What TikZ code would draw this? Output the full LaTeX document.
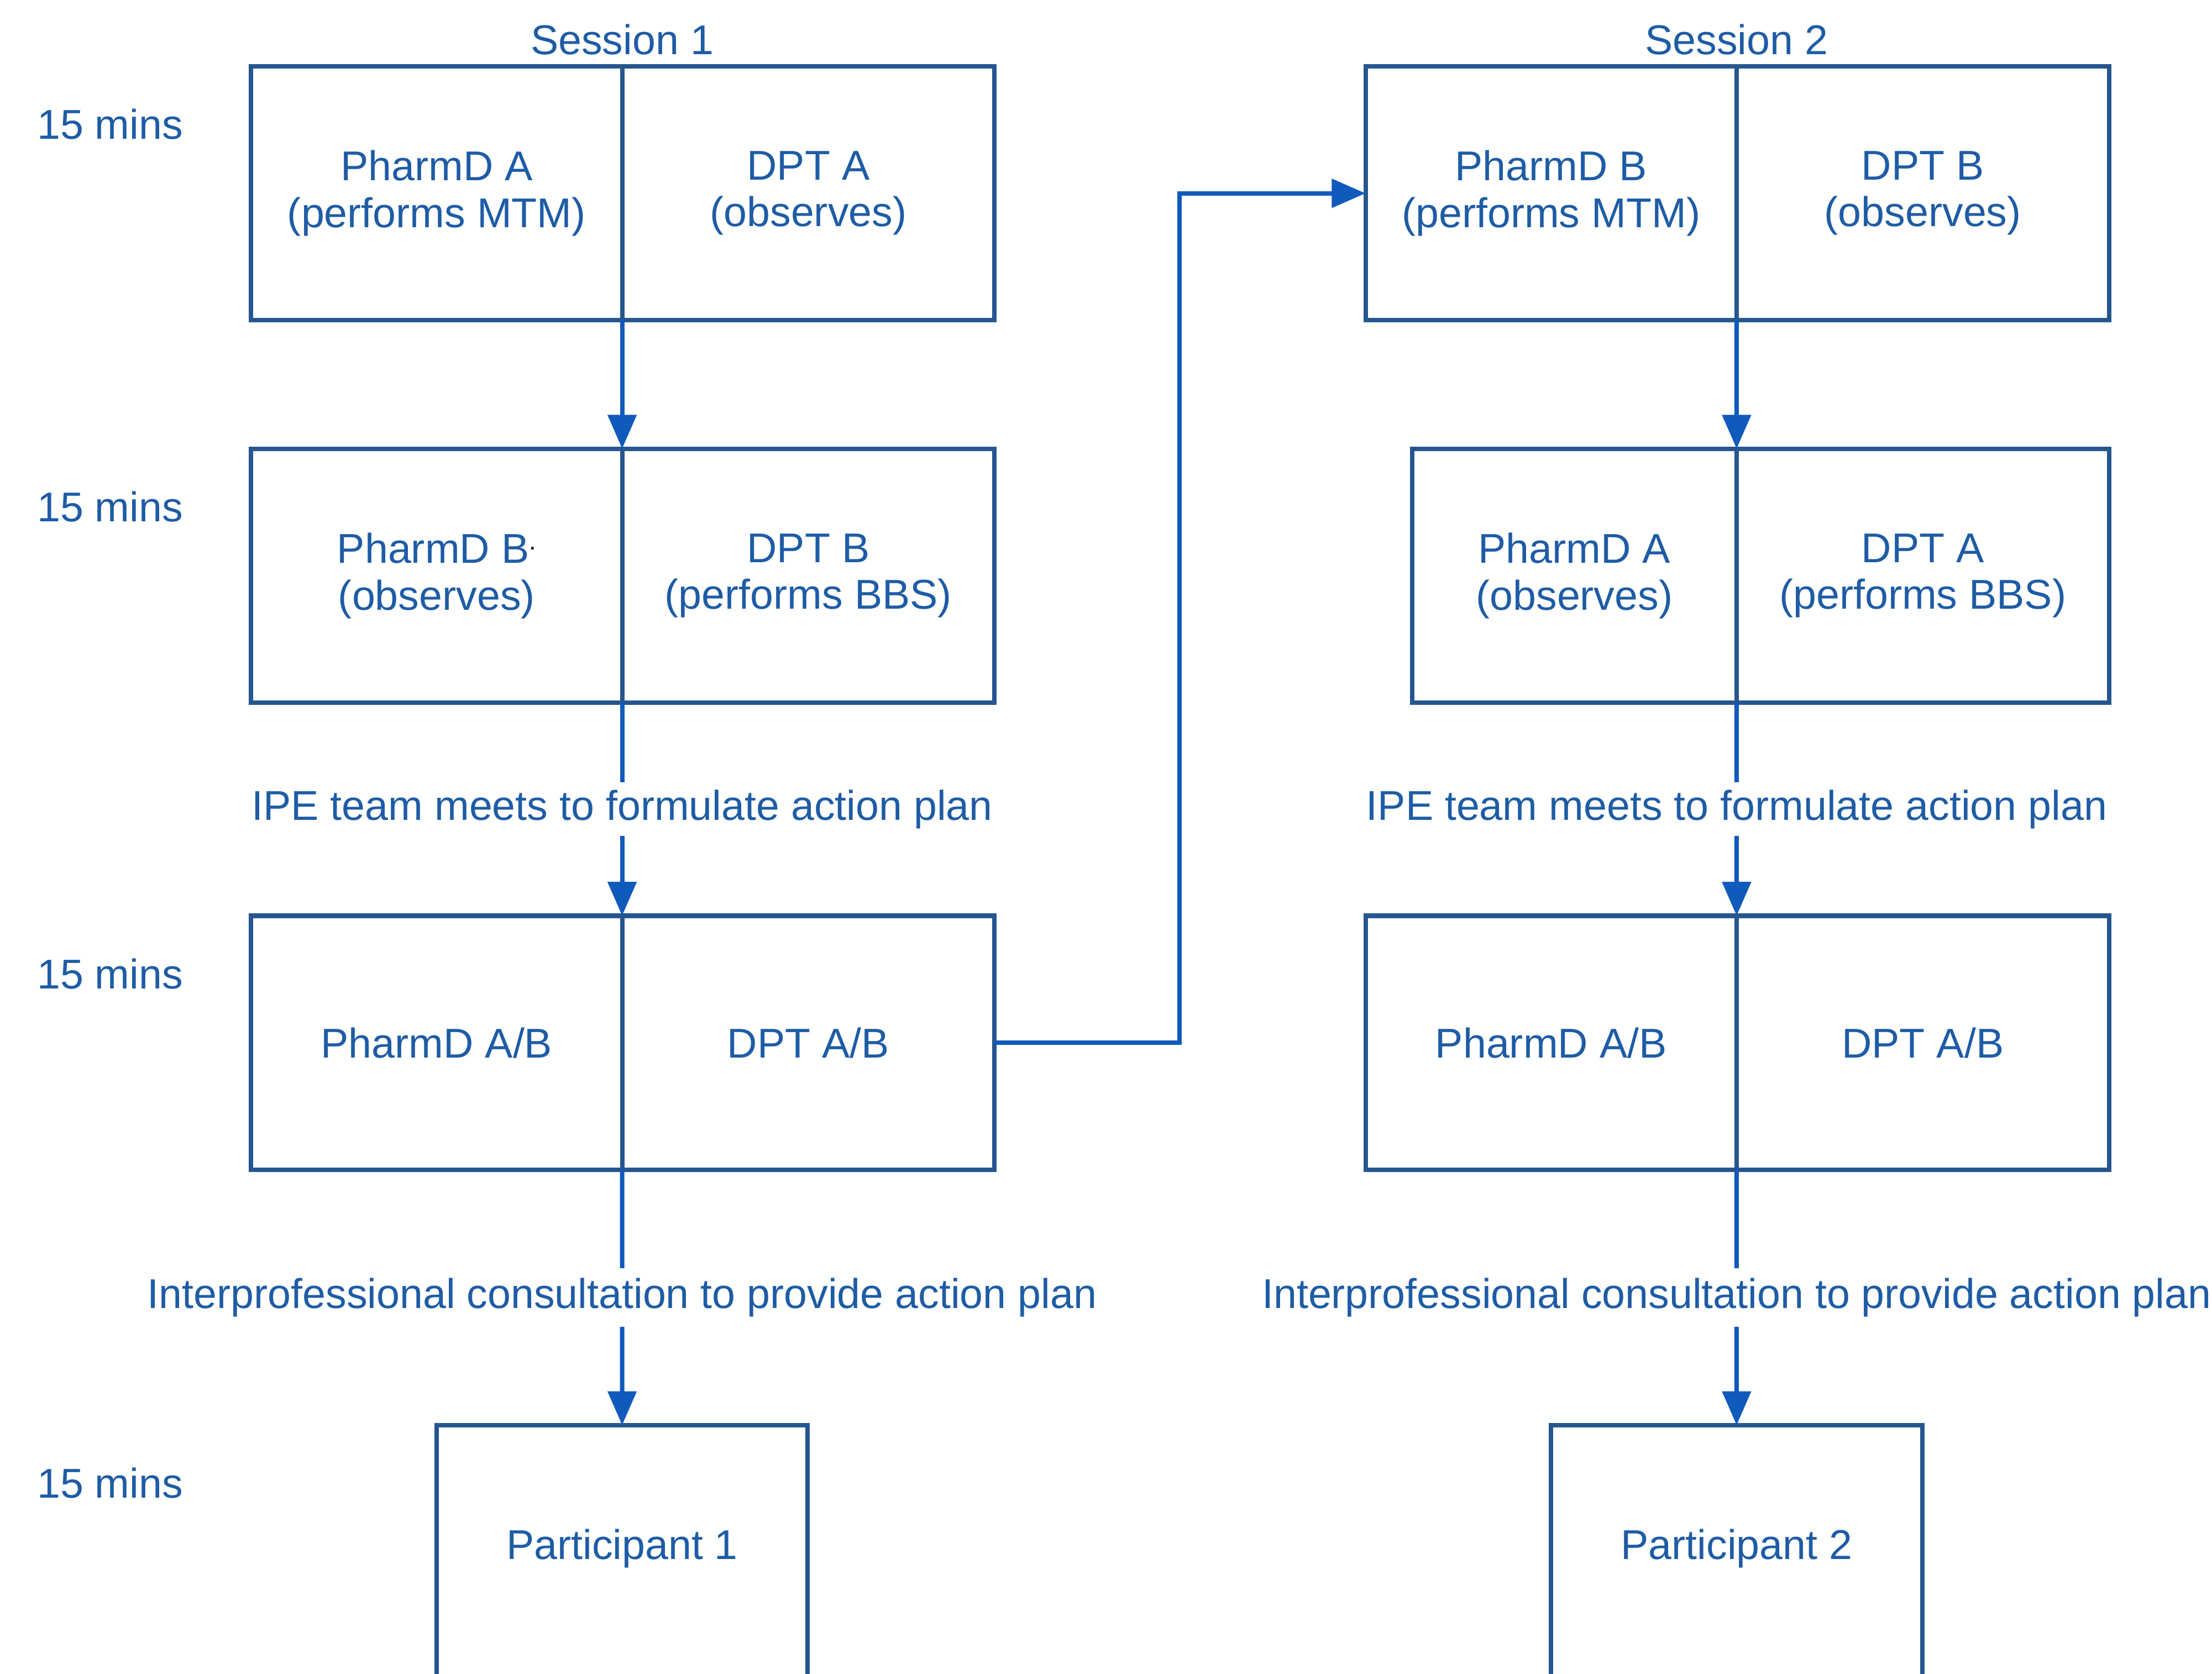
\documentclass[tikz,border=0pt]{standalone}
\usepackage{fontspec}
\setmainfont{Liberation Sans}
\usetikzlibrary{arrows.meta}
\definecolor{boxc}{RGB}{38,86,142}
\definecolor{arrc}{RGB}{16,90,188}
\definecolor{txtc}{RGB}{30,92,165}
\tikzset{
    cell/.style={draw=boxc, line width=0.9pt, minimum width=2.63cm, minimum height=1.8cm,
        inner sep=0pt, outer sep=0pt, align=center, text=txtc},
    partbox/.style={cell, text height=0.95cm, text depth=1.2cm, minimum height=0pt},
    lbl/.style={text=txtc, inner sep=1pt},
    flow/.style={draw=arrc, line width=0.9pt, ->}
}
\begin{document}
\begin{tikzpicture}[>={Triangle[width=0.2cm,length=0.24cm]}, font=\fontsize{8.4}{9.4}\selectfont]
\useasboundingbox (0,0) rectangle (15.68,-11.86);
\clip (0,0) rectangle (15.68,-11.86);

% session 1
\node[lbl] (ses1) at (4.41,-0.28) {Session 1};
\node[cell, anchor=north west] (a1) at (1.78,-0.47) {PharmD A\\(performs MTM)};
\node[cell, anchor=north west, minimum width=2.64cm] (b1) at (a1.north east) {DPT A\\(observes)};
\node[cell, anchor=north west] (c1) at (1.78,-3.18) {PharmD B\raisebox{0.6ex}{\color{black}\tiny.}\\(observes)};
\node[cell, anchor=north west, minimum width=2.64cm] (d1) at (c1.north east) {DPT B\\(performs BBS)};
\node[cell, anchor=north west] (e1) at (1.78,-6.49) {PharmD A/B};
\node[cell, anchor=north west, minimum width=2.64cm] (f1) at (e1.north east) {DPT A/B};
\node[partbox, anchor=north] (p1) at (4.41,-10.10) {Participant 1};

% session 2
\node[lbl] (ses2) at (12.31,-0.28) {Session 2};
\node[cell, anchor=north west] (a2) at (9.68,-0.47) {PharmD B\\(performs MTM)};
\node[cell, anchor=north west, minimum width=2.64cm] (b2) at (a2.north east) {DPT B\\(observes)};
\node[cell, anchor=north east, minimum width=2.30cm] (c2) at (12.31,-3.18) {PharmD A\\(observes)};
\node[cell, anchor=north west, minimum width=2.64cm] (d2) at (c2.north east) {DPT A\\(performs BBS)};
\node[cell, anchor=north west] (e2) at (9.68,-6.49) {PharmD A/B};
\node[cell, anchor=north west, minimum width=2.64cm] (f2) at (e2.north east) {DPT A/B};
\node[partbox, anchor=north] (p2) at (12.31,-10.10) {Participant 2};

\foreach \y [count=\i] in {0.88,3.59,6.90,10.51}
{
    \node[lbl] (mins\i) at (0.78,-\y) {15 mins};
}

\foreach \s in {1,2}
{
    \draw[flow] (a\s.south east) -- (c\s.north east);
    \draw[flow] (c\s.south east) -- node[lbl, fill=white, inner ysep=1.5pt] (ipe\s) {IPE team meets to formulate action plan} (e\s.north east);
    \draw[flow] (e\s.south east) -- node[lbl, fill=white, inner ysep=2pt] (cons\s) {Interprofessional consultation to provide action plan} (p\s.north);
}

\draw[flow] (f1.east) -- ++(1.31,0) |- (a2.west);

\end{tikzpicture}
\end{document}
